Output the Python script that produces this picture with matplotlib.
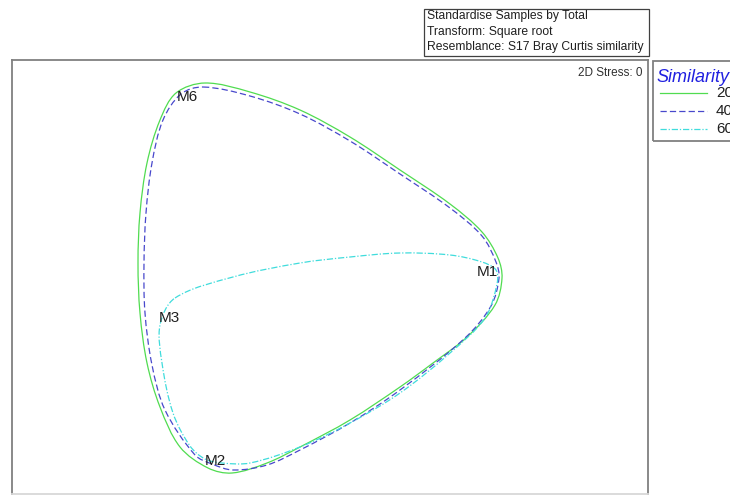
import numpy as np
import matplotlib.pyplot as plt
from matplotlib.path import Path
from matplotlib.patches import PathPatch, Rectangle

plt.rcParams['font.family'] = ['Liberation Sans', 'DejaVu Sans']

# sample positions (plot units, y grows downward like the picture)
samples = ['M6', 'M1', 'M3', 'M2']
sx = [187, 487, 169, 215]
sy = [97, 272, 318, 461]

# contour outlines
levels = ['20', '40', '60']
c20_x = [205, 250, 300, 350, 400, 450, 482, 498, 502, 495, 467, 433, 400, 350, 300, 267, 232,
         208, 180, 160, 147, 140, 138, 140, 147, 160, 176]
c20_y = [83, 92, 110, 137, 170, 204, 232, 258, 278, 305, 337, 363, 387, 420, 447, 463, 473,
         468, 447, 407, 363, 313, 263, 213, 163, 120, 93]
c40_x = [203, 250, 300, 350, 400, 450, 482, 496, 499, 491, 465, 400, 350, 300, 267, 233,
         212, 195, 165, 152, 145, 144, 146, 152, 163, 181]
c40_y = [87, 96, 114, 141, 174, 208, 236, 262, 278, 306, 338, 390, 423, 450, 465, 470,
         464, 455, 410, 365, 313, 263, 213, 163, 120, 94]
c60_x = [175, 233, 300, 350, 400, 450, 482, 496, 497, 485, 450, 400, 350, 300, 250, 222,
         205, 190, 173, 162, 160]
c60_y = [298, 277, 263, 257, 253, 255, 262, 270, 284, 318, 353, 393, 423, 447, 463, 463,
         459, 446, 413, 363, 325]

def closed_curve(xs, ys):
    p = np.column_stack([xs, ys]).astype(float)
    n = len(p)
    seg = np.linalg.norm(np.roll(p, -1, axis=0) - p, axis=1)
    verts = [p[0]]
    codes = [Path.MOVETO]
    for i in range(n):
        i0, i1, i2, i3 = i - 1, i, (i + 1) % n, (i + 2) % n
        d = seg[i1]
        t1 = (p[i2] - p[i0]) / (seg[i0] + seg[i1])
        t2 = (p[i3] - p[i1]) / (seg[i1] + seg[i2])
        verts += [p[i1] + t1 * d / 3, p[i2] - t2 * d / 3, p[i2]]
        codes += [Path.CURVE4] * 3
    return Path(verts, codes)

fig = plt.figure(figsize=(7.3, 4.98), dpi=100)
W, H = 730, 498

ax = fig.add_axes([12 / W, 1 - 494 / H, 636 / W, 434 / H])
ax.set_xlim(12, 648)
ax.set_ylim(494, 60)
ax.set_xticks([])
ax.set_yticks([])
for s in ax.spines.values():
    s.set_color('#808080')
    s.set_linewidth(1.3)
ax.spines['bottom'].set_color('#d8d8d8')

styles = [dict(color='#50dc50', ls='-'),
          dict(color='#4848cc', ls=(0, (5, 2.5))),
          dict(color='#40dcdc', ls=(0, (5, 1.5, 1, 1.5)))]
curves = [(c20_x, c20_y), (c40_x, c40_y), (c60_x, c60_y)]
for (cx, cy), st in zip(curves, styles):
    ax.add_patch(PathPatch(closed_curve(cx, cy), fill=False, lw=0.9,
                           edgecolor=st['color'], linestyle=st['ls']))

for name, x, y in zip(samples, sx, sy):
    ax.text(x, y, name, fontsize=11, ha='center', va='center', color='#202020')

ax.text(643, 73, '2D Stress: 0', fontsize=8.5, ha='right', va='center', color='#303030')

# header box
fig.patches.append(Rectangle((424 / W, 1 - 56 / H), 225 / W, 47 / H, transform=fig.transFigure,
                             fill=False, edgecolor='#404040', lw=0.9))
header = ['Standardise Samples by Total', 'Transform: Square root',
          'Resemblance: S17 Bray Curtis similarity']
for i, t in enumerate(header):
    fig.text(427 / W, 1 - (16 + 15.5 * i) / H, t, fontsize=8.7, va='center', color='#202020')

# legend box (runs off the right edge, as in the source)
fig.patches.append(Rectangle((653 / W, 1 - 141 / H), 100 / W, 80 / H, transform=fig.transFigure,
                             fill=False, edgecolor='#808080', lw=1.3, clip_on=False))
fig.text(656 / W, 1 - 78 / H, 'Similarity', fontsize=13, style='italic', color='#2020e0',
         va='center')
for i, (lv, st) in enumerate(zip(levels, styles)):
    yy = 1 - (93 + 18 * i) / H
    fig.add_artist(plt.Line2D([660 / W, 707 / W], [yy, yy], transform=fig.transFigure,
                              color=st['color'], ls=st['ls'], lw=0.9))
    fig.text(716 / W, yy, lv, fontsize=11, va='center', color='#202020')

fig.savefig('out.png', dpi=100)
